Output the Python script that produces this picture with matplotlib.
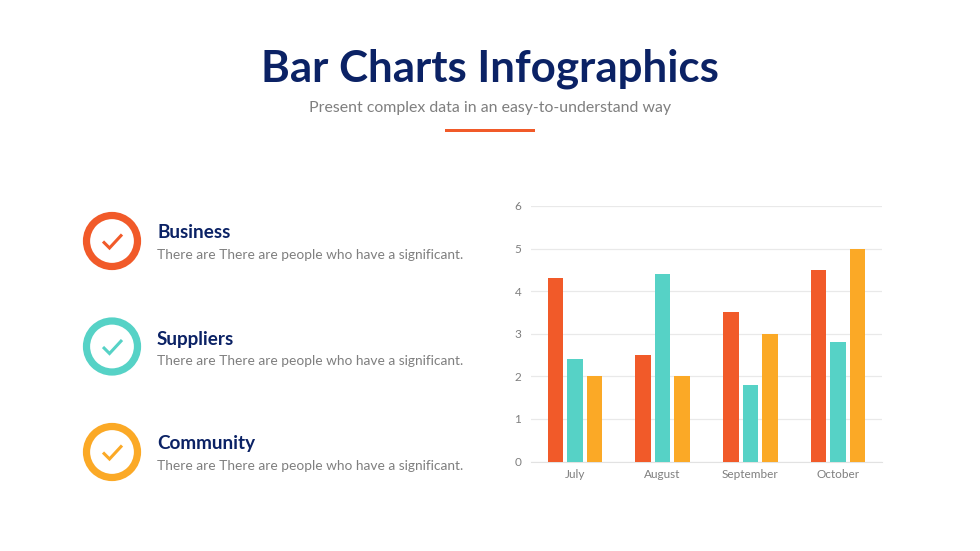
import numpy as np
import matplotlib
matplotlib.use('Agg')
import matplotlib.pyplot as plt
from matplotlib.patches import Circle, Rectangle

plt.rcParams['font.family'] = ['Lato', 'DejaVu Sans']

months = ['July', 'August', 'September', 'October']
red_values = [4.3, 2.5, 3.5, 4.5]
teal_values = [2.4, 4.4, 1.8, 2.8]
orange_values = [2.0, 2.0, 3.0, 5.0]
y_ticks = [0, 1, 2, 3, 4, 5, 6]

items = ['Business', 'Suppliers', 'Community']
item_text = 'There are There are people who have a significant.'

RED = '#F15A29'
TEAL = '#56D2C6'
ORANGE = '#FBA926'
NAVY = '#0B2265'
GREY = '#7F7F7F'

W, H = 980, 551
fig = plt.figure(figsize=(W / 100, H / 100), dpi=100, facecolor='white')

# background layer in pixel coords, for header and the list on the left
bg = fig.add_axes([0, 0, 1, 1])
bg.set_xlim(0, W)
bg.set_ylim(H, 0)
bg.axis('off')

bg.text(490, 69, 'Bar Charts Infographics', ha='center', va='center',
        fontsize=31.6, fontweight='bold', color=NAVY)
bg.text(490, 108, 'Present complex data in an easy-to-understand way',
        ha='center', va='center', fontsize=11.45, color=GREY)
bg.add_patch(Rectangle((445, 128.5), 90, 3.5, color=RED, lw=0))

rows = [(241, 233, 255, RED), (346.5, 339, 361, TEAL), (452, 444, 466, ORANGE)]
for name, (cy, ty, sy, col) in zip(items, rows):
    bg.add_patch(Circle((112, cy), 25.5, facecolor='white', edgecolor=col, lw=5.2))
    bg.plot([103, 109.5, 122], [cy + 0.5, cy + 7, cy - 6.5], color=col, lw=2.2,
            solid_capstyle='butt', solid_joinstyle='miter')
    bg.text(157, ty, name, ha='left', va='center', fontsize=13.6,
            fontweight='bold', color=NAVY)
    bg.text(157, sy, item_text, ha='left', va='center', fontsize=9.9, color=GREY)

# bar chart
ax = fig.add_axes([531 / W, 1 - 461.5 / H, 351 / W, 255.5 / H])
x = np.arange(len(months))
step = 0.222
width = 0.175
ax.bar(x - step, red_values, width, color=RED, zorder=3)
ax.bar(x, teal_values, width, color=TEAL, zorder=3)
ax.bar(x + step, orange_values, width, color=ORANGE, zorder=3)

ax.set_xlim(-0.5, 3.5)
ax.set_ylim(0, 6)
ax.set_xticks(x)
ax.set_xticklabels(months)
ax.set_yticks(y_ticks)
ax.patch.set_alpha(0)
ax.grid(axis='y', color='#E9E9E9', lw=0.9, zorder=0)
ax.set_axisbelow(True)
for s in ['top', 'right', 'left']:
    ax.spines[s].set_visible(False)
ax.spines['bottom'].set_color('#E2E2E2')
ax.tick_params(axis='both', length=0, labelsize=8.5, labelcolor=GREY)
ax.tick_params(axis='x', pad=5.5)
ax.tick_params(axis='y', pad=7)

fig.savefig('out.png', dpi=100)
